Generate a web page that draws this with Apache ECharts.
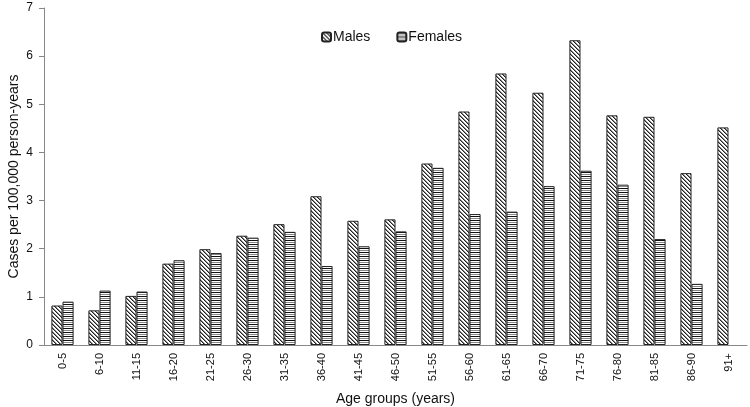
<!DOCTYPE html>
<html><head><meta charset="utf-8">
<script src="https://cdn.jsdelivr.net/npm/echarts@6/dist/echarts.min.js"></script>
<style>html,body{margin:0;padding:0;background:#fff}#c{width:750px;height:407px}</style>
</head><body><div id="c"></div>
<script>
const categories = ['0-5','6-10','11-15','16-20','21-25','26-30','31-35','36-40','41-45','46-50','51-55','56-60','61-65','66-70','71-75','76-80','81-85','86-90','91+'];
const males =   [0.82,0.72,1.02,1.69,1.99,2.27,2.51,3.09,2.58,2.61,3.77,4.85,5.64,5.24,6.33,4.77,4.74,3.57,4.52];
const females = [0.90,1.13,1.11,1.76,1.91,2.23,2.35,1.64,2.05,2.36,3.68,2.72,2.77,3.30,3.62,3.33,2.20,1.27,null];
const yTicks = [0,1,2,3,4,5,6,7];

function hatch(){
  const c=document.createElement('canvas');c.width=4;c.height=4;
  const g=c.getContext('2d');g.fillStyle='#fff';g.fillRect(0,0,4,4);
  g.fillStyle='#222';
  for(let i=0;i<4;i++){g.fillRect(i,i,1,1);}
  g.fillStyle='#888';
  for(let i=0;i<4;i++){g.fillRect((i+1)%4,i,1,1);}
  return c;
}
function stripes(){
  const c=document.createElement('canvas');c.width=4;c.height=4;
  const g=c.getContext('2d');g.fillStyle='#fff';g.fillRect(0,0,4,4);
  g.fillStyle='#111';g.fillRect(0,0,4,1);
  g.fillStyle='#888';g.fillRect(0,2,4,1);
  return c;
}
const font='Liberation Sans, Arial, sans-serif';
const chart=echarts.init(document.getElementById('c'),null,{renderer:'canvas'});
chart.setOption({
  animation:false,
  textStyle:{fontFamily:font},
  legend:{top:25,left:316,itemWidth:9,itemHeight:9,itemGap:26,
    textStyle:{fontSize:14,color:'#111',fontFamily:font,padding:[0,0,0,-3]},
    data:['Males','Females']},
  grid:{left:44,right:3,top:8,bottom:62,containLabel:false,outerBoundsMode:'none'},
  xAxis:{type:'category',data:categories,
    name:'Age groups (years)',nameLocation:'middle',nameGap:47,nameMoveOverlap:false,
    nameTextStyle:{fontSize:14,color:'#111',fontFamily:font},
    axisLine:{lineStyle:{color:'#888'}},
    axisTick:{alignWithLabel:false,length:5,lineStyle:{color:'#888'}},
    axisLabel:{rotate:90,fontSize:11,color:'#111',fontFamily:font,margin:8,interval:0}},
  yAxis:{type:'value',min:0,max:7,interval:1,
    name:'Cases per 100,000 person-years',nameLocation:'middle',nameGap:23,nameMoveOverlap:false,
    nameTextStyle:{fontSize:14,color:'#111',fontFamily:font},
    axisLine:{show:true,lineStyle:{color:'#888'}},
    axisTick:{show:true,length:5,lineStyle:{color:'#888'}},
    splitLine:{show:false},
    axisLabel:{fontSize:12,color:'#111',fontFamily:font,margin:11,
      formatter:v=>yTicks.includes(v)?String(v):''}},
  series:[
    {name:'Males',type:'bar',data:males,barGap:'0%',barCategoryGap:'40%',
      itemStyle:{color:{image:hatch(),repeat:'repeat'},borderColor:'#222',borderWidth:1}},
    {name:'Females',type:'bar',data:females,
      itemStyle:{color:{image:stripes(),repeat:'repeat'},borderColor:'#222',borderWidth:1}}
  ]
});
</script></body></html>
